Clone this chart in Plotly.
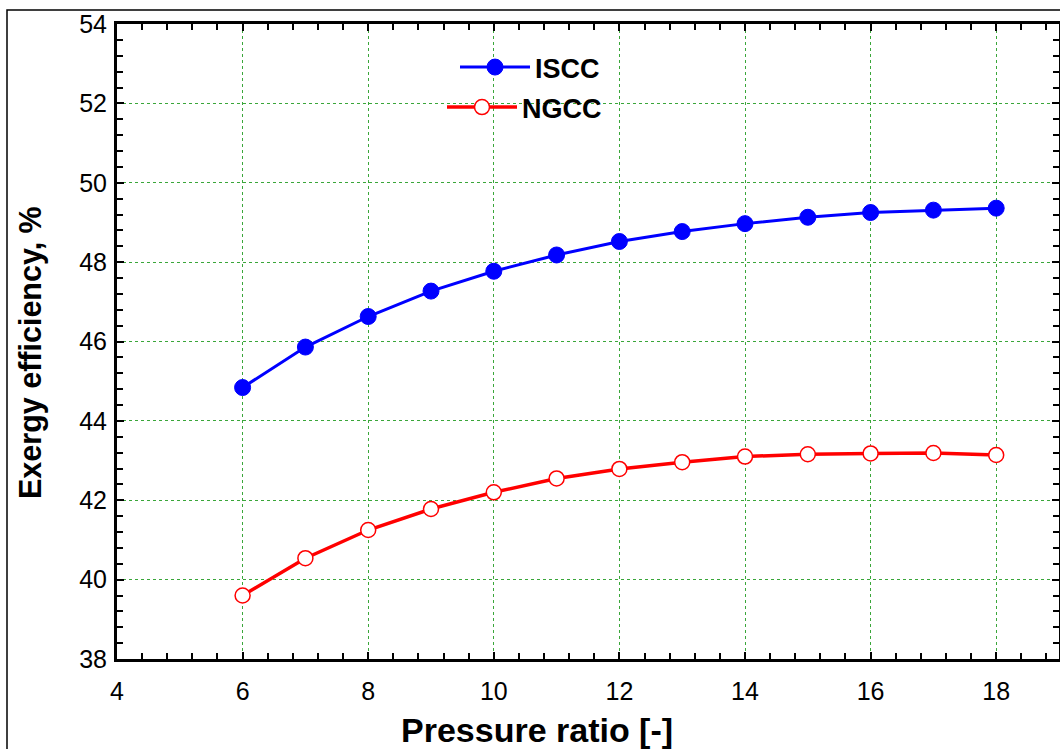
import plotly.graph_objects as go

pressure_ratio = [6, 7, 8, 9, 10, 11, 12, 13, 14, 15, 16, 17, 18]
iscc = [44.84, 45.86, 46.63, 47.27, 47.77, 48.18, 48.52, 48.77, 48.97, 49.13, 49.25, 49.31, 49.36]
ngcc = [39.60, 40.54, 41.25, 41.78, 42.20, 42.55, 42.79, 42.96, 43.10, 43.16, 43.18, 43.19, 43.14]

x_ticks = [4, 6, 8, 10, 12, 14, 16, 18]
y_ticks = [38, 40, 42, 44, 46, 48, 50, 52, 54]

FONT = "Liberation Sans, Arial, sans-serif"

fig = go.Figure()
fig.add_trace(go.Scatter(
    x=pressure_ratio, y=iscc, name="ISCC", mode="lines+markers",
    line=dict(color="#0000ff", width=3),
    marker=dict(symbol="circle", size=16, color="#0000ff",
                line=dict(color="#0000ff", width=1)),
    legend="legend",
))
fig.add_trace(go.Scatter(
    x=pressure_ratio, y=ngcc, name="NGCC", mode="lines+markers",
    line=dict(color="#ff0000", width=3.5),
    marker=dict(symbol="circle", size=15, color="white",
                line=dict(color="#ff0000", width=1.5)),
    legend="legend2",
))

axis_common = dict(
    showline=True, linecolor="black", linewidth=3, mirror="ticks",
    ticks="inside", ticklen=7, tickwidth=1.5, tickcolor="black",
    showgrid=True, gridcolor="#3aa63a", griddash="dot", gridwidth=1,
    zeroline=False,
    tickfont=dict(family=FONT, size=25, color="black"),
)

fig.update_xaxes(
    range=[4, 19], tickvals=x_ticks, ticktext=[str(v) for v in x_ticks],
    minor=dict(dtick=0.4, tick0=4, ticks="inside", ticklen=6, tickcolor="black",
               tickwidth=1.5, showgrid=False),
    ticklabelstandoff=8,
    **axis_common,
)
fig.update_yaxes(
    range=[38, 54], tickvals=y_ticks, ticktext=[str(v) for v in y_ticks],
    minor=dict(dtick=0.4, tick0=38, ticks="inside", ticklen=6, tickcolor="black",
               tickwidth=1.5, showgrid=False),
    ticklabelstandoff=2,
    **axis_common,
)

legend_font = dict(family=FONT, size=27, color="black", weight="bold")
fig.update_layout(
    width=1060, height=749,
    margin=dict(l=117, r=1, t=24, b=90, autoexpand=False),
    paper_bgcolor="white", plot_bgcolor="white",
    showlegend=True,
    legend=dict(x=(455 - 117) / 942, y=(659 - 43) / 635, xanchor="left", yanchor="top",
                bgcolor="rgba(0,0,0,0)", itemwidth=70, font=legend_font),
    legend2=dict(x=(442 - 117) / 942, y=(659 - 83) / 635, xanchor="left", yanchor="top",
                 bgcolor="rgba(0,0,0,0)", itemwidth=70, font=legend_font),
    shapes=[dict(type="rect", xref="paper", yref="paper",
                 x0=(7 - 117) / 942, x1=1.01, y0=-0.2, y1=1 + 14 / 635,
                 line=dict(color="black", width=1.5), layer="below")],
    annotations=[
        dict(text="<b>Pressure ratio [-]</b>", xref="paper", yref="paper",
             x=(537 - 117) / 942, y=(659 - 730) / 635, xanchor="center", yanchor="middle",
             showarrow=False, font=dict(family=FONT, size=34, color="black")),
        dict(text="<b>Exergy efficiency, %</b>", xref="paper", yref="paper",
             x=(31 - 117) / 942, y=(659 - 353) / 635, xanchor="center", yanchor="middle",
             textangle=-90, showarrow=False,
             font=dict(family=FONT, size=30.5, color="black")),
    ],
)

fig.write_html("out.html")
